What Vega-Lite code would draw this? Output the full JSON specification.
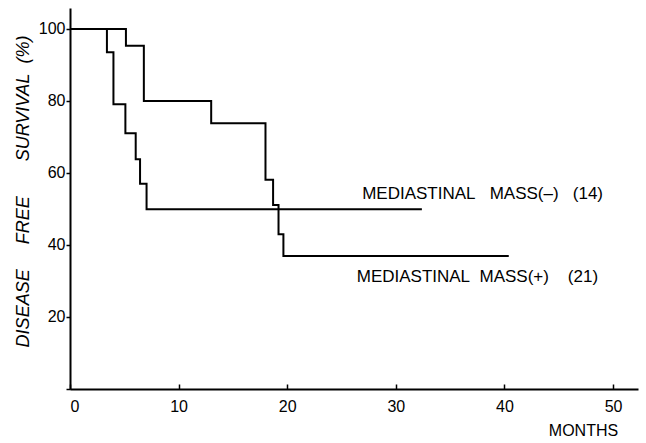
{
  "$schema": "https://vega.github.io/schema/vega-lite/v6.json",
  "width": 568,
  "height": 381,
  "autosize": {"type": "none"},
  "padding": {"left": 70, "top": 8, "right": 8, "bottom": 54},
  "background": "white",
  "config": {"view": {"stroke": null}, "font": "Liberation Sans"},
  "layer": [
    {
      "data": {
        "values": [
          {"group": "minus", "month": 0, "survival": 100},
          {"group": "minus", "month": 3.4, "survival": 93.5},
          {"group": "minus", "month": 4.0, "survival": 79.1},
          {"group": "minus", "month": 5.1, "survival": 71.0},
          {"group": "minus", "month": 6.05, "survival": 63.8},
          {"group": "minus", "month": 6.45, "survival": 57.0},
          {"group": "minus", "month": 7.05, "survival": 49.9},
          {"group": "minus", "month": 32.4, "survival": 49.9},
          {"group": "plus", "month": 0, "survival": 100},
          {"group": "plus", "month": 5.15, "survival": 95.3},
          {"group": "plus", "month": 6.8, "survival": 80.0},
          {"group": "plus", "month": 13.0, "survival": 73.8},
          {"group": "plus", "month": 18.0, "survival": 58.1},
          {"group": "plus", "month": 18.7, "survival": 51.1},
          {"group": "plus", "month": 19.2, "survival": 43.0},
          {"group": "plus", "month": 19.65, "survival": 36.9},
          {"group": "plus", "month": 40.4, "survival": 36.9}
        ]
      },
      "mark": {"type": "line", "interpolate": "step-after", "color": "black", "strokeWidth": 2},
      "encoding": {
        "x": {
          "field": "month",
          "type": "quantitative",
          "scale": {"domain": [0, 52.3], "nice": false, "zero": false},
          "axis": {
            "values": [0, 10, 20, 30, 40, 50],
            "tickSize": -5,
            "labelPadding": 14,
            "domainColor": "black",
            "domainWidth": 2,
            "tickColor": "black",
            "tickWidth": 1.5,
            "labelFontSize": 16,
            "labelColor": "black",
            "grid": false,
            "title": "MONTHS",
            "titleFontSize": 16,
            "titleFontWeight": "normal",
            "titleColor": "black",
            "titleX": 513,
            "titleY": 46,
            "titleAlign": "center",
            "titleBaseline": "alphabetic"
          }
        },
        "y": {
          "field": "survival",
          "type": "quantitative",
          "scale": {"domain": [0, 105.8], "nice": false},
          "axis": {
            "values": [0, 10, 20, 30, 40, 50, 60, 70, 80, 90, 100],
            "tickSize": 4,
            "labelPadding": 1,
            "labelExpr": "datum.value > 0 && datum.value % 20 == 0 ? datum.label : ''",
            "domainColor": "black",
            "domainWidth": 2,
            "tickColor": "black",
            "tickWidth": 1.5,
            "labelFontSize": 16,
            "labelColor": "black",
            "grid": false,
            "title": "DISEASE\u00a0\u00a0\u00a0\u00a0\u00a0FREE\u00a0\u00a0\u00a0\u00a0\u00a0\u00a0\u00a0SURVIVAL\u00a0\u00a0(%)",
            "titleFontSize": 18,
            "titleFontStyle": "italic",
            "titleFontWeight": "normal",
            "titleColor": "black",
            "titleX": -42,
            "titleY": 183,
            "titleAngle": -90,
            "titleAlign": "center",
            "titleBaseline": "alphabetic"
          }
        },
        "detail": {"field": "group"}
      }
    },
    {
      "data": {
        "values": [
          {"month": 26.9, "survival": 52.8, "label": "MEDIASTINAL\u00a0\u00a0\u00a0MASS(–)\u00a0\u00a0\u00a0(14)"},
          {"month": 26.4, "survival": 29.7, "label": "MEDIASTINAL\u00a0\u00a0MASS(+)\u00a0\u00a0\u00a0\u00a0(21)"}
        ]
      },
      "mark": {"type": "text", "align": "left", "baseline": "alphabetic", "fontSize": 17, "color": "black", "font": "Liberation Sans"},
      "encoding": {
        "x": {"field": "month", "type": "quantitative"},
        "y": {"field": "survival", "type": "quantitative"},
        "text": {"field": "label"}
      }
    }
  ]
}
